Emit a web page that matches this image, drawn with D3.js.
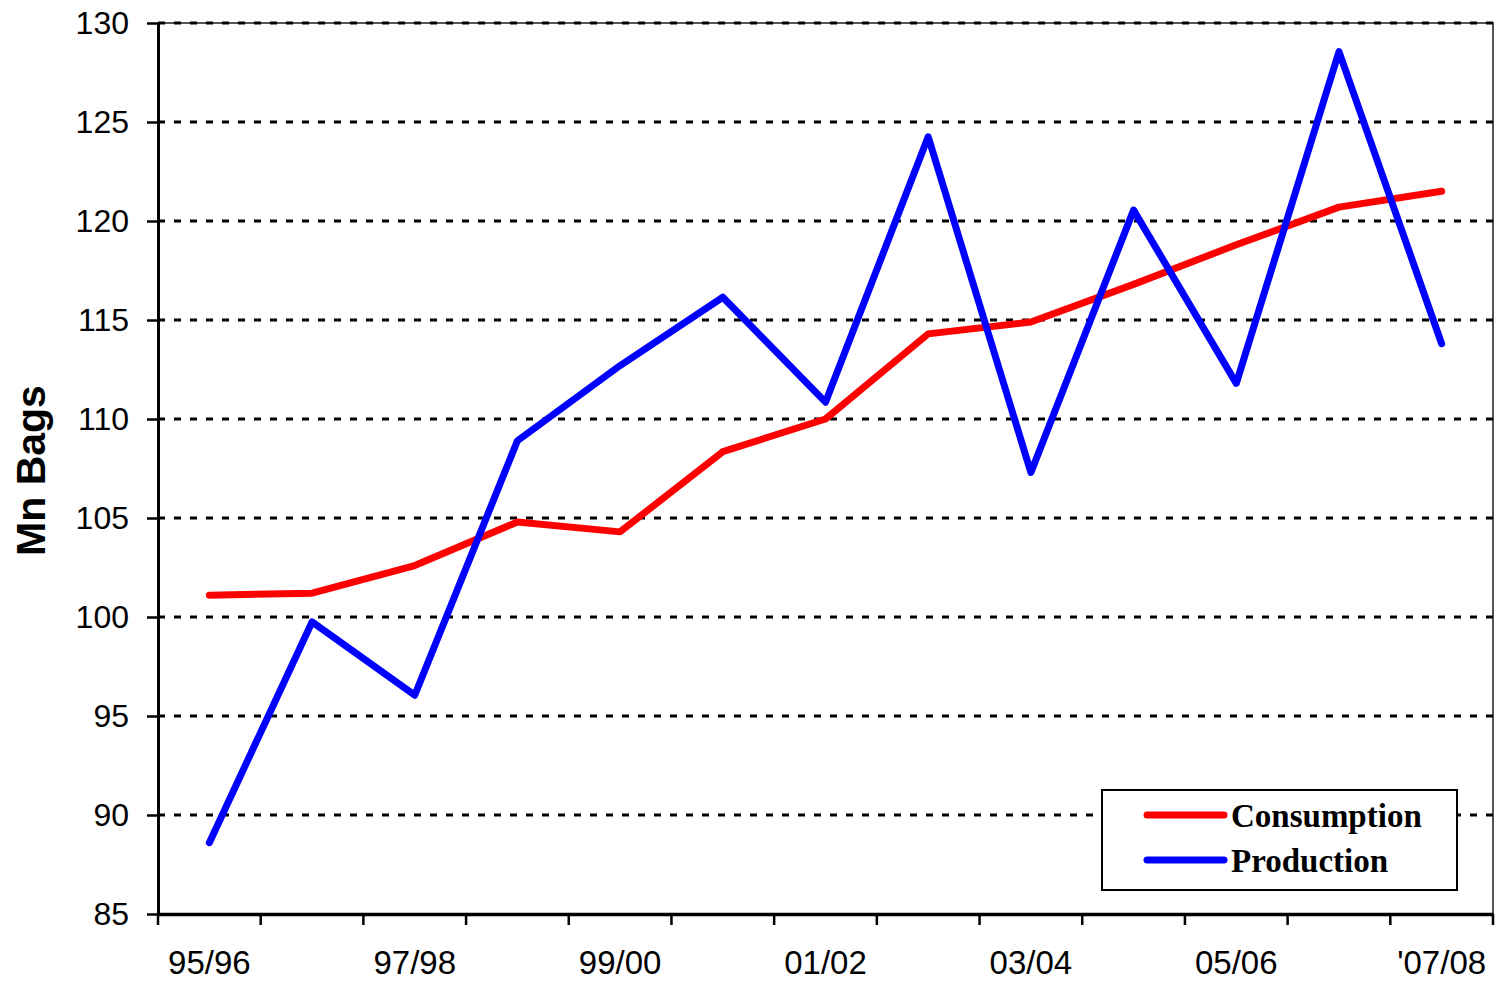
<!DOCTYPE html>
<html>
<head>
<meta charset="utf-8">
<script src="https://cdn.jsdelivr.net/npm/d3@7"></script>
<style>
  body { margin: 0; background: #fff; }
  svg { display: block; }
</style>
</head>
<body>
<div id="chart"></div>
<script>
// crop years
let seasons = ["95/96", "96/97", "97/98", "98/99", "99/00", "00/01", "01/02",
               "02/03", "03/04", "04/05", "05/06", "06/07", "'07/08"];
// mn bags
let consumption = [101.1, 101.2, 102.6, 104.8, 104.3, 108.35, 110.0,
                   114.3, 114.9, 116.8, 118.8, 120.7, 121.5];
let production = [88.6, 99.75, 96.05, 108.9, 112.7, 116.15, 110.85,
                  124.25, 107.3, 120.55, 111.8, 128.55, 113.8];
let yTicks = [85, 90, 95, 100, 105, 110, 115, 120, 125, 130];
let shownLabels = ["95/96", "97/98", "99/00", "01/02", "03/04", "05/06", "'07/08"];

let margin = {top: 23, right: 10, bottom: 68, left: 158};
let width = 1503 - margin.left - margin.right;
let height = 982 - margin.top - margin.bottom;

let svg = d3.select("#chart").append("svg")
    .attr("width", 1503)
    .attr("height", 982)
    .append("g")
        .attr("transform", "translate(" + margin.left + "," + margin.top + ")");

let x = d3.scaleBand()
    .domain(seasons)
    .range([0, width])
    .padding(0);

let y = d3.scaleLinear()
    .domain([85, 130])
    .range([height, 0]);

let cx = (d) => x(d) + x.bandwidth() / 2;

// plot frame (top and right)
svg.append("path")
    .attr("d", "M0," + y(130) + "H" + width + "V" + y(85))
    .attr("fill", "none")
    .attr("stroke", "#555")
    .attr("stroke-width", 2);

// dashed gridlines
svg.append("g")
    .selectAll("line")
    .data(yTicks.filter((d) => d > 85))
    .join("line")
        .attr("x1", 0)
        .attr("x2", width)
        .attr("y1", (d) => y(d))
        .attr("y2", (d) => y(d))
        .attr("stroke", "black")
        .attr("stroke-width", 3)
        .attr("stroke-dasharray", "7,9");

// y axis
let yAxis = svg.append("g")
    .call(d3.axisLeft(y).tickValues(yTicks).tickSize(11).tickPadding(18).tickSizeOuter(0));
yAxis.select(".domain").attr("stroke-width", 3);
yAxis.selectAll(".tick line").attr("stroke-width", 2.5);
yAxis.selectAll("text")
    .attr("font-family", "Arial, 'Liberation Sans', sans-serif")
    .attr("font-size", 32)
    .attr("fill", "black");

// x axis labels at band centres, ticks at band edges
let xAxis = svg.append("g")
    .attr("transform", "translate(0," + height + ")")
    .call(d3.axisBottom(x).tickSize(0).tickPadding(37)
        .tickFormat((d) => shownLabels.includes(d) ? d : ""));
xAxis.select(".domain").attr("stroke-width", 3.5);
xAxis.selectAll("text")
    .attr("font-family", "Arial, 'Liberation Sans', sans-serif")
    .attr("font-size", 33)
    .attr("fill", "black");

let edges = seasons.map((d) => x(d)).concat([width]);
svg.append("g")
    .selectAll("line")
    .data(edges)
    .join("line")
        .attr("x1", (d) => d)
        .attr("x2", (d) => d)
        .attr("y1", height)
        .attr("y2", height + 11)
        .attr("stroke", "black")
        .attr("stroke-width", 2.5);

// y label
svg.append("text")
    .attr("transform", "translate(" + (-113) + "," + (height / 2 + 2) + ") rotate(-90)")
    .attr("text-anchor", "middle")
    .attr("font-family", "Arial, 'Liberation Sans', sans-serif")
    .attr("font-weight", "bold")
    .attr("font-size", 41)
    .text("Mn Bags");

// series lines
let series = [
    {name: "Consumption", values: consumption, color: "#ff0000"},
    {name: "Production", values: production, color: "#0000ff"}
];

let line = d3.line()
    .x((d, i) => cx(seasons[i]))
    .y((d) => y(d));

svg.selectAll(".series")
    .data(series)
    .join("path")
        .attr("class", "series")
        .attr("fill", "none")
        .attr("stroke", (d) => d.color)
        .attr("stroke-width", 7)
        .attr("stroke-linejoin", "round")
        .attr("stroke-linecap", "round")
        .attr("d", (d) => line(d.values));

// legend
let legend = svg.append("g")
    .attr("transform", "translate(" + (1102 - margin.left) + "," + (790 - margin.top) + ")");

legend.append("rect")
    .attr("width", 355)
    .attr("height", 100)
    .attr("fill", "white")
    .attr("stroke", "black")
    .attr("stroke-width", 2);

let items = legend.selectAll(".item")
    .data(series)
    .join("g")
        .attr("class", "item")
        .attr("transform", (d, i) => "translate(0," + (25 + i * 45) + ")");

items.append("line")
    .attr("x1", 45)
    .attr("x2", 122)
    .attr("stroke", (d) => d.color)
    .attr("stroke-width", 7)
    .attr("stroke-linecap", "round");

items.append("text")
    .attr("x", 129)
    .attr("y", 12)
    .attr("font-family", "'Times New Roman', 'Liberation Serif', serif")
    .attr("font-weight", "bold")
    .attr("font-size", 33)
    .text((d) => d.name);
</script>
</body>
</html>
